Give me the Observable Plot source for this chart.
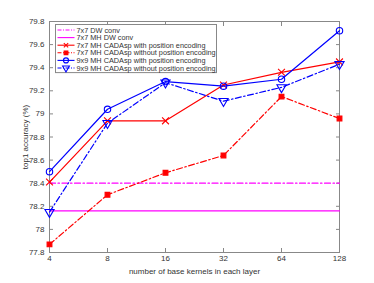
<!DOCTYPE html>
<html>
<head>
<meta charset="utf-8">
<script src="https://cdn.jsdelivr.net/npm/d3@7"></script>
<script src="https://cdn.jsdelivr.net/npm/@observablehq/plot@0.6"></script>
<style>
  body { margin: 0; background: #fff; }
  #chart { width: 374px; height: 283px; }
</style>
</head>
<body>
<div id="chart"></div>
<script>
const kernels = [4, 8, 16, 32, 64, 128];
const dwConv7 = 78.40;
const mhDwConv7 = 78.16;
const mh7WithPE = [78.41, 78.94, 78.94, 79.25, 79.36, 79.45];
const mh7WithoutPE = [77.87, 78.30, 78.49, 78.64, 79.15, 78.96];
const mh9WithPE = [78.50, 79.04, 79.28, 79.24, 79.30, 79.72];
const mh9WithoutPE = [78.15, 78.92, 79.27, 79.11, 79.23, 79.43];
const yTicks = [77.8, 78, 78.2, 78.4, 78.6, 78.8, 79, 79.2, 79.4, 79.6, 79.8];

const seriesNames = [
  "7x7 DW conv",
  "7x7 MH DW conv",
  "7x7 MH CADAsp with position encoding",
  "7x7 MH CADAsp without position encoding",
  "9x9 MH CADAsp with position encoding",
  "9x9 MH CADAsp without position encoding"
];

const DASHDOT = "6,2.5,1.5,2.5";
const styles = [
  {color: "#ff00ff", dash: DASHDOT, symbol: null},
  {color: "#ff00ff", dash: null, symbol: null},
  {color: "#ff0000", dash: null, symbol: "times", fill: "none", r: 3.2},
  {color: "#ff0000", dash: DASHDOT, symbol: "square", fill: "#ff0000", r: 2.7},
  {color: "#0000ff", dash: null, symbol: "circle", fill: "none", r: 3.2},
  {color: "#0000ff", dash: DASHDOT, symbol: "triangle", fill: "none", rotate: 180, r: 3.4}
];

const lineData = [
  kernels.map(k => ({k, v: dwConv7})),
  kernels.map(k => ({k, v: mhDwConv7})),
  kernels.map((k, i) => ({k, v: mh7WithPE[i]})),
  kernels.map((k, i) => ({k, v: mh7WithoutPE[i]})),
  kernels.map((k, i) => ({k, v: mh9WithPE[i]})),
  kernels.map((k, i) => ({k, v: mh9WithoutPE[i]}))
];

const fmt = d => String(+d.toFixed(1));

const marks = [];
marks.push(Plot.axisX({anchor: "bottom", ticks: kernels, tickSize: -4, tickPadding: 7, stroke: "#888",
  fill: "#333", fontSize: 8, label: "number of base kernels in each layer", labelAnchor: "center",
  labelArrow: "none", labelOffset: 21, tickFormat: d => String(d)}));
marks.push(Plot.axisX({anchor: "top", ticks: kernels, tickSize: -4, stroke: "#888", tickFormat: () => "", label: null}));
marks.push(Plot.axisY({anchor: "left", ticks: yTicks, tickSize: -4, tickPadding: 9, stroke: "#888",
  fill: "#333", fontSize: 8, tickFormat: fmt, label: "top1 accuracy (%)", labelAnchor: "center",
  labelArrow: "none", labelOffset: 27}));
marks.push(Plot.axisY({anchor: "right", ticks: yTicks, tickSize: -4, stroke: "#888", tickFormat: () => "", label: null}));
marks.push(Plot.frame({stroke: "#888", strokeWidth: 1}));

lineData.forEach((data, i) => {
  const s = styles[i];
  marks.push(Plot.line(data, {x: "k", y: "v", stroke: s.color, strokeWidth: 1.2,
    strokeDasharray: s.dash || undefined}));
  if (s.symbol) {
    marks.push(Plot.dot(data, {x: "k", y: "v", symbol: s.symbol, r: s.r, stroke: s.color,
      fill: s.fill, strokeWidth: 1.1, rotate: s.rotate || 0}));
  }
});

// legend (inside plot area, top-left)
marks.push((index, scales, values, dimensions) => {
  const g = d3.create("svg:g").attr("text-anchor", "start");
  const x0 = dimensions.marginLeft + 6.5;
  const y0 = dimensions.marginTop + 3.5;
  const w = 161, rowH = 7.6, h = rowH * seriesNames.length + 2.5;
  g.append("rect").attr("x", x0).attr("y", y0).attr("width", w).attr("height", h)
    .attr("fill", "#fff").attr("stroke", "#888").attr("stroke-width", 1);
  const symMap = {times: d3.symbolTimes, square: d3.symbolSquare, circle: d3.symbolCircle, triangle: d3.symbolTriangle};
  seriesNames.forEach((name, i) => {
    const s = styles[i];
    const cy = y0 + 5.5 + i * rowH;
    g.append("line").attr("x1", x0 + 2).attr("x2", x0 + 19).attr("y1", cy).attr("y2", cy)
      .attr("stroke", s.color).attr("stroke-width", 1.1).attr("fill", "none")
      .attr("stroke-dasharray", s.dash ? "4,1.5,1,1.5" : null);
    if (s.symbol) {
      const size = s.symbol === "times" ? 14 : s.symbol === "square" ? 14 : 20;
      g.append("path").attr("d", d3.symbol(symMap[s.symbol], size)())
        .attr("transform", `translate(${x0 + 10.5},${cy}) rotate(${s.rotate || 0})`)
        .attr("stroke", s.color).attr("fill", s.fill).attr("stroke-width", 1.1);
    }
    g.append("text").attr("x", x0 + 21).attr("y", cy).attr("dy", "0.35em")
      .attr("text-anchor", "start")
      .attr("font-size", 7.3).attr("fill", "#333").text(name);
  });
  return g.node();
});

const chart = Plot.plot({
  width: 374,
  height: 283,
  marginLeft: 49,
  marginRight: 35,
  marginTop: 21,
  marginBottom: 31,
  style: {fontFamily: "'Liberation Sans', Arial, sans-serif", background: "#fff", color: "#333"},
  x: {type: "log", base: 2, domain: [4, 128]},
  y: {domain: [77.8, 79.8]},
  marks
});
document.getElementById("chart").appendChild(chart);
</script>
</body>
</html>
